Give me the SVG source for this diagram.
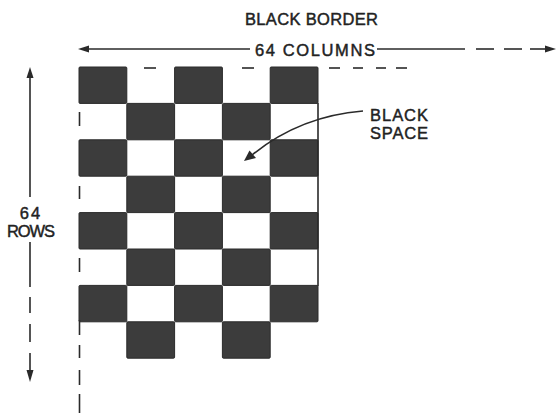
<svg xmlns="http://www.w3.org/2000/svg" width="556" height="413" viewBox="0 0 556 413">
  <defs>
    <style>
      .sq { fill: #3c3c3c; stroke: #2a2a2a; stroke-width: 1; }
      .ln { stroke: #2a2a2a; stroke-width: 1.6; fill: none; }
      .ah { fill: #2a2a2a; }
      .lbl { font-family: "Liberation Sans", Arial, sans-serif; font-size: 16.5px; fill: #222; stroke: #222; stroke-width: 0.45; }
    </style>
    <rect id="cell" class="sq" width="47.8" height="36.4" rx="1"/>
  </defs>
  <rect width="556" height="413" fill="#ffffff"/>

  <g id="board">
    <!-- row 0 -->
    <use href="#cell" x="79" y="67"/>
    <use href="#cell" x="174.6" y="67"/>
    <use href="#cell" x="270.2" y="67"/>
    <!-- row 1 -->
    <use href="#cell" x="126.8" y="103.4"/>
    <use href="#cell" x="222.4" y="103.4"/>
    <!-- row 2 -->
    <use href="#cell" x="79" y="139.8"/>
    <use href="#cell" x="174.6" y="139.8"/>
    <use href="#cell" x="270.2" y="139.8"/>
    <!-- row 3 -->
    <use href="#cell" x="126.8" y="176.2"/>
    <use href="#cell" x="222.4" y="176.2"/>
    <!-- row 4 -->
    <use href="#cell" x="79" y="212.6"/>
    <use href="#cell" x="174.6" y="212.6"/>
    <use href="#cell" x="270.2" y="212.6"/>
    <!-- row 5 -->
    <use href="#cell" x="126.8" y="249"/>
    <use href="#cell" x="222.4" y="249"/>
    <!-- row 6 -->
    <use href="#cell" x="79" y="285.4"/>
    <use href="#cell" x="174.6" y="285.4"/>
    <use href="#cell" x="270.2" y="285.4"/>
    <!-- row 7 -->
    <use href="#cell" x="126.8" y="321.8"/>
    <use href="#cell" x="222.4" y="321.8"/>
    <!-- right edge -->
    <line class="ln" x1="318" y1="103" x2="318" y2="286" stroke-width="1.4"/>
  </g>

  <g id="borders">
    <!-- top dashed border -->
    <line class="ln" x1="144" y1="68" x2="156" y2="68"/>
    <line class="ln" x1="242" y1="68" x2="254" y2="68"/>
    <line class="ln" x1="329" y1="68" x2="340" y2="68"/>
    <line class="ln" x1="353" y1="68" x2="363" y2="68"/>
    <line class="ln" x1="376" y1="68" x2="386" y2="68"/>
    <line class="ln" x1="396" y1="68" x2="407" y2="68"/>
    <!-- left dashed border -->
    <line class="ln" x1="79.5" y1="112" x2="79.5" y2="126"/>
    <line class="ln" x1="79.5" y1="186" x2="79.5" y2="199"/>
    <line class="ln" x1="79.5" y1="258" x2="79.5" y2="272"/>
    <line class="ln" x1="79.5" y1="320" x2="79.5" y2="335"/>
    <line class="ln" x1="79.5" y1="345" x2="79.5" y2="358"/>
    <line class="ln" x1="79.5" y1="370" x2="79.5" y2="385"/>
    <line class="ln" x1="79.5" y1="394" x2="79.5" y2="413"/>
  </g>

  <g id="connectors">
    <!-- horizontal 64 columns arrow -->
    <line class="ln" x1="85" y1="49" x2="250" y2="49"/>
    <polygon class="ah" points="78,49 89,45.5 89,52.5"/>
    <line class="ln" x1="377" y1="49" x2="465" y2="49"/>
    <line class="ln" x1="476" y1="49" x2="494" y2="49"/>
    <line class="ln" x1="504" y1="49" x2="522" y2="49"/>
    <line class="ln" x1="530" y1="49" x2="548" y2="49"/>
    <polygon class="ah" points="556,49 545,45.5 545,52.5"/>
    <!-- vertical 64 rows arrow -->
    <polygon class="ah" points="30,67 26.5,78 33.5,78"/>
    <line class="ln" x1="30" y1="75" x2="30" y2="197"/>
    <line class="ln" x1="30" y1="242" x2="30" y2="287" stroke-width="2"/>
    <line class="ln" x1="30" y1="297" x2="30" y2="313"/>
    <line class="ln" x1="30" y1="324" x2="30" y2="342"/>
    <line class="ln" x1="30" y1="353" x2="30" y2="373"/>
    <polygon class="ah" points="30,382 26.5,370 33.5,370"/>
    <!-- black space pointer -->
    <path class="ln" d="M363,111 Q300,116 252,155"/>
    <polygon class="ah" points="244,161 249.5,150.5 256,158"/>
  </g>

  <g id="label-black-border">
    <text class="lbl" x="245" y="25" textLength="133" lengthAdjust="spacing">BLACK BORDER</text>
  </g>
  <g id="label-columns">
    <text class="lbl" x="255" y="56" textLength="120" lengthAdjust="spacing">64 COLUMNS</text>
  </g>
  <g id="label-rows">
    <text class="lbl" x="31" y="219" text-anchor="middle" letter-spacing="2">64</text>
    <text class="lbl" x="7" y="237" textLength="48" lengthAdjust="spacing">ROWS</text>
  </g>
  <g id="label-black-space">
    <text class="lbl" x="370" y="121" textLength="58" lengthAdjust="spacing">BLACK</text>
    <text class="lbl" x="370" y="139" textLength="58" lengthAdjust="spacing">SPACE</text>
  </g>
</svg>
